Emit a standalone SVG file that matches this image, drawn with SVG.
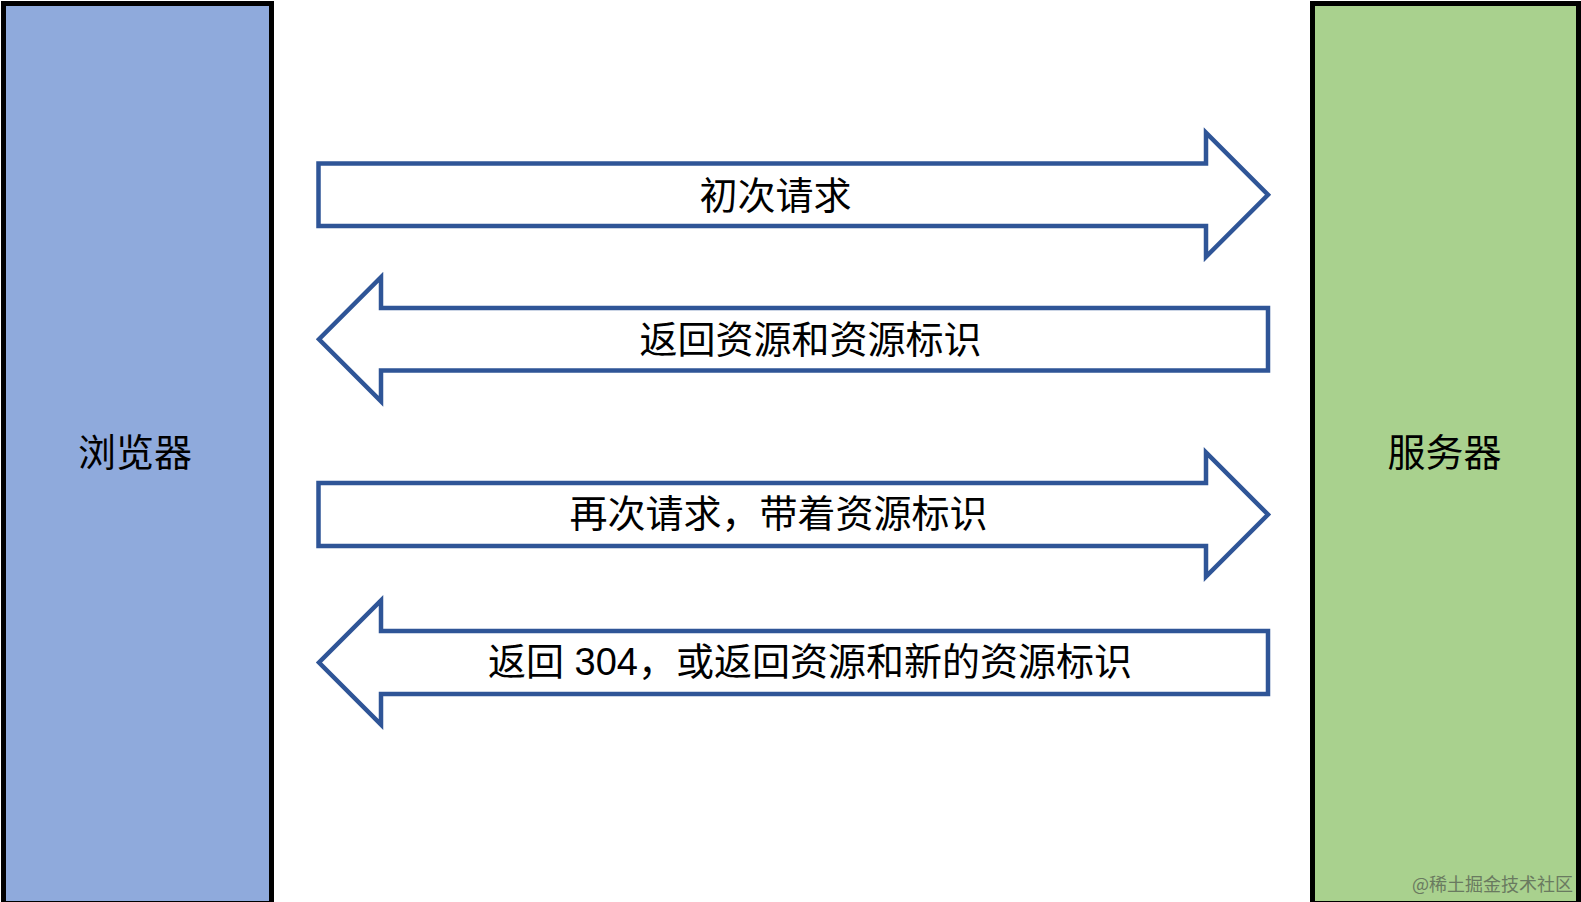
<svg xmlns="http://www.w3.org/2000/svg" width="1581" height="902" viewBox="0 0 1581 902">
  <style>
    .box { stroke: #000000; stroke-width: 5; }
    .arrow { fill: #ffffff; stroke: #2f5597; stroke-width: 4.5; stroke-linejoin: miter; stroke-miterlimit: 10; }
    .lbl { font-family: "Liberation Sans", "Noto Sans CJK SC", sans-serif; font-size: 38px; fill: #000000; text-anchor: middle; }
    .wm { font-family: "Noto Sans CJK SC", sans-serif; font-size: 18px; fill: #5f6b58; text-anchor: end; opacity: 0.85; }
  </style>
  <rect x="0" y="0" width="1581" height="902" fill="#ffffff"/>
  <g id="browser">
    <rect class="box" x="3.5" y="3.5" width="268" height="900" fill="#8faadc"/>
    <text class="lbl" x="135" y="466">浏览器</text>
  </g>
  <g id="server">
    <rect class="box" x="1312.5" y="3.5" width="266" height="900" fill="#a9d18e"/>
    <text class="lbl" x="1444.5" y="466">服务器</text>
  </g>
  <g id="connectors">
    <g id="req1">
      <path class="arrow" d="M318.5,163.5 H1206 V132.75 L1268,194.75 L1206,256.75 V226 H318.5 Z"/>
      <text class="lbl" x="775.5" y="209">初次请求</text>
    </g>
    <g id="resp1">
      <path class="arrow" d="M1268,308 H381 V277.25 L319,339.25 L381,401.25 V370.5 H1268 Z"/>
      <text class="lbl" x="810.5" y="352.5">返回资源和资源标识</text>
    </g>
    <g id="req2">
      <path class="arrow" d="M318.5,483 H1206 V452.5 L1268,514.5 L1206,576.5 V546 H318.5 Z"/>
      <text class="lbl" x="778.5" y="527">再次请求，带着资源标识</text>
    </g>
    <g id="resp2">
      <path class="arrow" d="M1268,631 H381 V600.5 L319,662.5 L381,724.5 V694 H1268 Z"/>
      <text class="lbl" x="810" y="675">返回 304，或返回资源和新的资源标识</text>
    </g>
  </g>
  <text class="wm" x="1573" y="891">@稀土掘金技术社区</text>
</svg>
